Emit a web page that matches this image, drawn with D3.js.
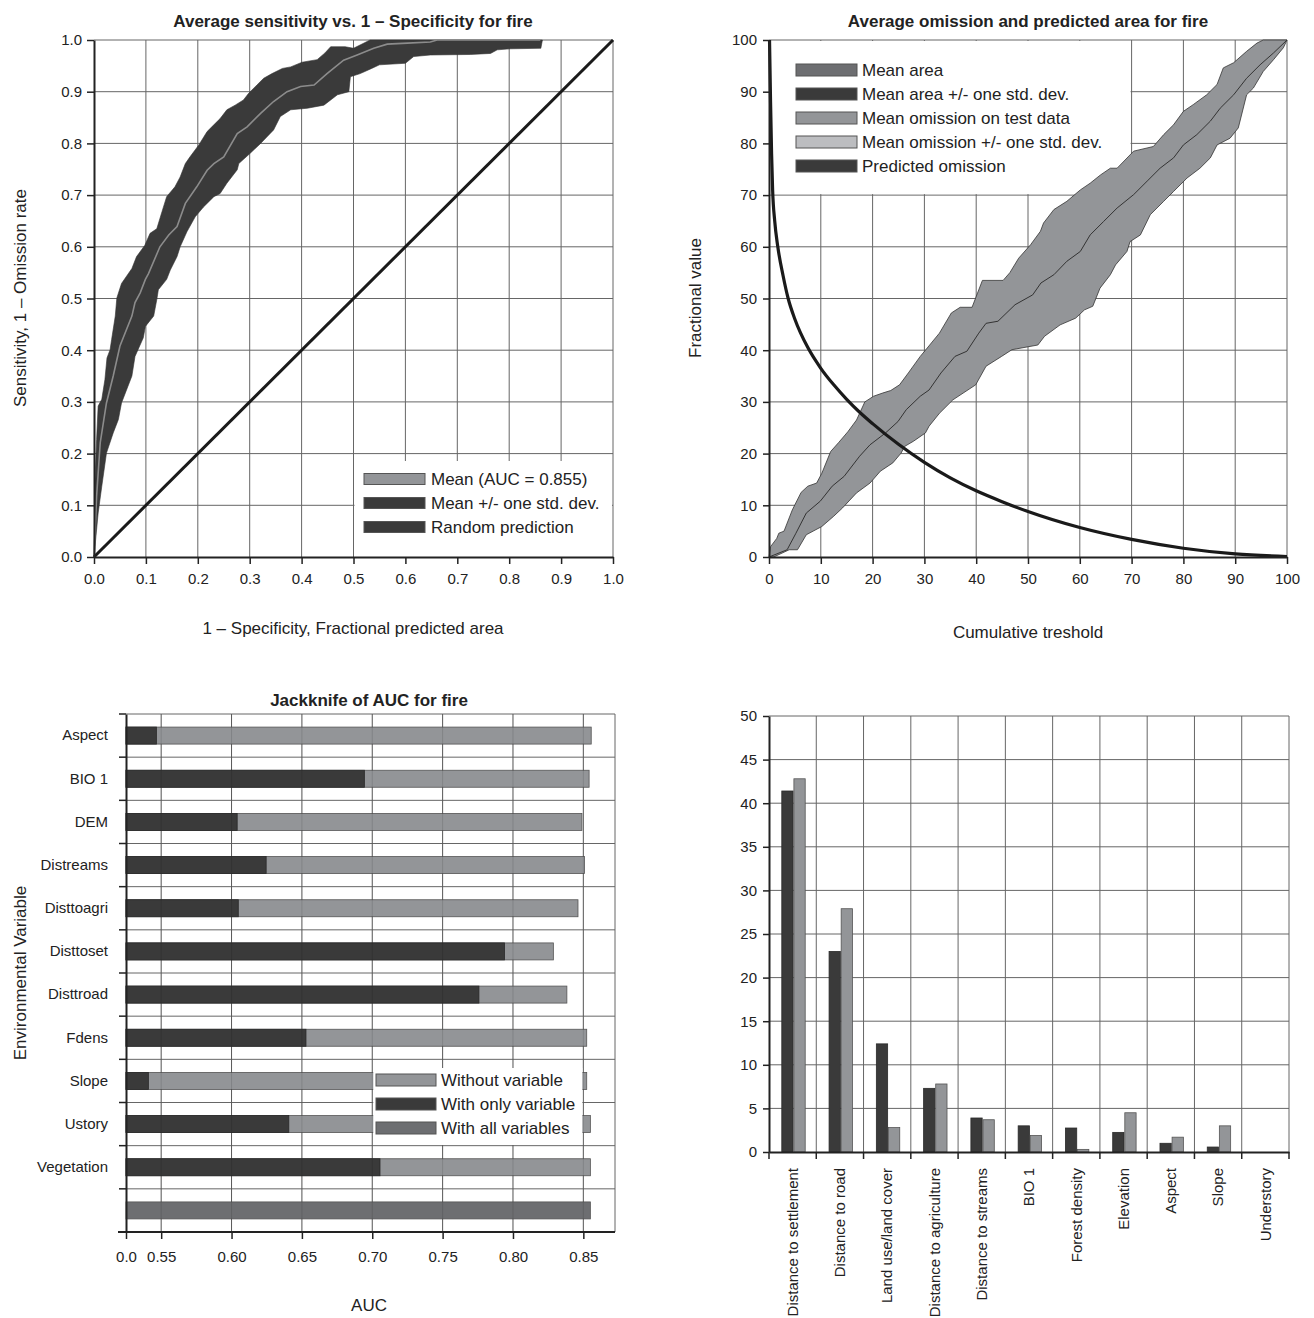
<!DOCTYPE html>
<html>
<head>
<meta charset="utf-8">
<script src="https://cdn.jsdelivr.net/npm/d3@7"></script>
<style>
  body { margin: 0; background: #fff; }
</style>
</head>
<body>
<script>
// ---------- data: ROC (average sensitivity vs 1 - specificity) ----------
var rocTicks = [0, 0.1, 0.2, 0.3, 0.4, 0.5, 0.6, 0.7, 0.8, 0.9, 1.0];
var rocUpper = [[0,0],[0.002,0.15],[0.005,0.227],[0.008,0.292],[0.015,0.305],[0.021,0.343],[0.025,0.385],
  [0.031,0.401],[0.034,0.421],[0.041,0.466],[0.044,0.501],[0.053,0.529],[0.073,0.558],[0.082,0.581],
  [0.098,0.603],[0.108,0.626],[0.121,0.635],[0.131,0.668],[0.140,0.697],[0.156,0.716],[0.166,0.735],
  [0.176,0.761],[0.185,0.774],[0.202,0.797],[0.218,0.823],[0.227,0.832],[0.243,0.848],[0.256,0.865],
  [0.272,0.874],[0.288,0.884],[0.298,0.897],[0.314,0.913],[0.327,0.926],[0.343,0.935],[0.363,0.945],
  [0.379,0.948],[0.401,0.957],[0.430,0.962],[0.445,0.975],[0.456,0.987],[0.484,0.987],[0.500,0.984],
  [0.532,1.0],[0.864,1.0]];
var rocLower = [[0,0],[0.002,0.021],[0.008,0.085],[0.015,0.137],[0.024,0.201],[0.037,0.24],[0.047,0.266],
  [0.053,0.298],[0.073,0.35],[0.079,0.388],[0.095,0.424],[0.099,0.446],[0.115,0.466],[0.121,0.498],
  [0.124,0.517],[0.140,0.537],[0.147,0.555],[0.160,0.581],[0.166,0.6],[0.179,0.629],[0.195,0.658],
  [0.211,0.677],[0.231,0.697],[0.243,0.703],[0.256,0.723],[0.276,0.749],[0.279,0.761],[0.301,0.781],
  [0.321,0.8],[0.346,0.826],[0.359,0.852],[0.379,0.865],[0.411,0.868],[0.443,0.874],[0.469,0.894],
  [0.491,0.9],[0.494,0.929],[0.513,0.935],[0.535,0.945],[0.550,0.952],[0.600,0.955],[0.616,0.968],
  [0.648,0.971],[0.725,0.972],[0.764,0.974],[0.777,0.981],[0.803,0.983],[0.861,0.984],[0.864,1.0]];
var rocMean = [[0,0],[0.005,0.117],[0.012,0.221],[0.024,0.298],[0.037,0.35],[0.050,0.408],[0.073,0.466],
  [0.079,0.492],[0.089,0.511],[0.099,0.537],[0.105,0.548],[0.127,0.6],[0.144,0.623],[0.160,0.639],
  [0.176,0.684],[0.198,0.716],[0.218,0.748],[0.231,0.761],[0.250,0.774],[0.276,0.819],[0.295,0.832],
  [0.321,0.858],[0.346,0.881],[0.372,0.9],[0.398,0.910],[0.424,0.913],[0.449,0.935],[0.481,0.961],
  [0.507,0.971],[0.539,0.984],[0.565,0.992],[0.604,0.994],[0.648,0.996],[0.661,1.0],[0.86,1.0]];
var rocRandom = [[0,0],[1,1]];
var rocLegend = ["Mean (AUC = 0.855)", "Mean +/- one std. dev.", "Random prediction"];

// ---------- data: omission and predicted area ----------
var omTicks = [0, 10, 20, 30, 40, 50, 60, 70, 80, 90, 100];
var omUpper = [[0,0],[0.3,2.0],[1.5,3.6],[1.9,4.6],[2.9,5.0],[4.5,9.1],[6.2,12.5],[7.5,13.7],[9.2,14.3],
  [10.2,16.2],[11.9,20.4],[13.5,22.2],[15.2,24.2],[16.9,26.5],[18.5,30],[20.2,31.1],[21.9,31.7],
  [23.5,32.2],[25.2,33.3],[26.9,35.6],[29.2,38.8],[30.2,40],[32.9,43.3],[35.2,47.2],[36.9,48.3],
  [39.2,48.3],[41.2,53.5],[45.2,53.5],[46.5,55],[48.2,57.8],[50.5,60.4],[52.4,63.0],[53.0,64.6],
  [55.0,67.2],[57.5,68.8],[60.1,71.0],[62.0,72.3],[64.0,73.9],[65.9,75.2],[67.2,75.2],[70.4,78.5],
  [74.2,79.4],[76.2,81.7],[78.1,83.6],[80.0,86.2],[81.9,87.5],[84.5,89.4],[86.5,91.4],[87.7,94.6],
  [89.7,95.6],[92.2,97.8],[94.2,99.4],[95.4,100],[100,100]];
var omLower = [[0,0],[0.9,0],[3.9,1.4],[5.5,1.4],[7.2,4.3],[10.2,5.9],[12.5,7.9],[14.2,9.5],[16.9,12.4],
  [19.5,14.3],[21.5,16.6],[23.9,18.2],[25.5,20.1],[26.2,21.4],[27.9,22.4],[30.2,24],[30.9,25.3],
  [32.9,27.8],[35.5,30.4],[39.9,33.3],[41.9,36.9],[44.9,38.8],[46.9,40.1],[51.9,41],[53.2,42.7],
  [56.2,44.9],[59.2,46.2],[60.9,47.8],[62.5,48.5],[63.9,52],[65.9,54.6],[66.9,56.5],[69.1,59.1],
  [69.7,61.0],[71.7,62.3],[73.6,66.2],[76.2,68.8],[78.1,70.7],[80.7,73.3],[83.2,75.2],[85.2,77.2],
  [86.5,79.7],[89.0,81.0],[90.6,83.0],[92.2,89.4],[93.5,90.7],[95.4,93.9],[97.4,96.2],[99.3,98.5],[100,100]];
var omMean = [[0,0],[3.5,1.4],[5.2,4.6],[7.2,8.5],[9.9,10.8],[12.2,13.7],[14.5,15.6],[17.5,19.5],
  [19.5,21.7],[22.5,24],[24.9,26.2],[26.5,28.5],[29.2,31.1],[30.9,32.3],[33.2,35.6],[35.9,38.8],
  [38.2,39.8],[40.5,43.3],[41.9,45.2],[44.2,45.6],[47.5,48.8],[50.9,50.7],[52.5,53],[55.0,54.6],
  [57.5,57.2],[60.1,59.1],[62.0,62.3],[64.6,64.9],[67.2,67.5],[70.4,70.1],[73.0,72.7],[75.5,75.2],
  [78.1,77.2],[80.0,79.7],[82.6,81.7],[85.2,84.3],[87.1,86.8],[89.7,89.4],[92.2,92.6],[94.8,95.2],
  [97.4,97.5],[100,100]];
var areaCurve = [[0.1,100],[0.3,88],[0.5,78],[0.7,71],[1.1,65],[1.7,60],[2.7,54.5],[3.7,50],
  [5,46],[7.5,40.5],[10,36.5],[12.5,33.3],[15,30.5],[17.5,28],[20,25.8],[25,21.8],[30,18.3],
  [35,15.3],[40,12.8],[45,10.7],[50,8.8],[60,5.7],[70,3.4],[80,1.7],[90,0.6],[100,0.1]];
var omLegend = ["Mean area", "Mean area +/- one std. dev.", "Mean omission on test data",
  "Mean omission +/- one std. dev.", "Predicted omission"];

// ---------- data: jackknife of AUC ----------
var jkVars = ["Aspect", "BIO 1", "DEM", "Distreams", "Disttoagri", "Disttoset", "Disttroad",
  "Fdens", "Slope", "Ustory", "Vegetation"];
var jkWithout = [0.8556, 0.8541, 0.849, 0.8508, 0.8462, 0.8287, 0.8383, 0.8524, 0.8524, 0.855, 0.855];
var jkOnly = [0.5466, 0.6944, 0.604, 0.6246, 0.6048, 0.794, 0.7758, 0.6529, 0.5409, 0.6407, 0.7055];
var jkAll = 0.855;
var jkTicks = [0.525, 0.55, 0.60, 0.65, 0.70, 0.75, 0.80, 0.85];
var jkLegend = ["Without variable", "With only variable", "With all variables"];

// ---------- data: variable contributions ----------
var contribCats = ["Distance to settlement", "Distance to road", "Land use/land cover",
  "Distance to agriculture", "Distance to streams", "BIO 1", "Forest density", "Elevation",
  "Aspect", "Slope", "Understory"];
var contribPct = [41.4, 23.0, 12.4, 7.3, 3.9, 3.0, 2.75, 2.25, 1.0, 0.57, 0];
var permImportance = [42.8, 27.9, 2.8, 7.8, 3.7, 1.9, 0.3, 4.5, 1.7, 3.0, 0];
var contribTicks = [0, 5, 10, 15, 20, 25, 30, 35, 40, 45, 50];

// ---------- styling ----------
var FONT = "'Liberation Sans', Arial, sans-serif";
var ink = "#222";
var gridColor = "#666";
var darkFill = "#3a3a3a";
var midFill = "#939598";
var allFill = "#6d6e71";

var svg = d3.select("body").append("svg")
  .attr("width", 1314)
  .attr("height", 1318)
  .style("font-family", FONT);

function styleAxis(g) {
  g.select(".domain").attr("stroke", ink).attr("stroke-width", 2);
  g.selectAll(".tick line").attr("stroke", ink).attr("stroke-width", 1.5);
  g.selectAll(".tick text").attr("font-size", 15).attr("fill", ink).attr("font-family", FONT);
}

function addText(x, y, txt, size, weight, rotate) {
  var t = svg.append("text")
    .attr("text-anchor", "middle")
    .attr("font-size", size)
    .attr("font-weight", weight || "normal")
    .attr("fill", ink)
    .text(txt);
  if (rotate) t.attr("transform", `translate(${x},${y}) rotate(-90)`);
  else t.attr("x", x).attr("y", y);
  return t;
}

// ================= chart 1: ROC =================
var x1 = d3.scaleLinear().domain([0, 1]).range([94, 613]);
var y1 = d3.scaleLinear().domain([0, 1]).range([557, 40]);
var g1 = svg.append("g");

g1.selectAll(".vgrid").data(rocTicks.slice(1)).enter().append("line")
  .attr("x1", d => x1(d)).attr("x2", d => x1(d))
  .attr("y1", y1(0)).attr("y2", y1(1))
  .attr("stroke", gridColor).attr("stroke-width", 1);
g1.selectAll(".hgrid").data(rocTicks.slice(1)).enter().append("line")
  .attr("x1", x1(0)).attr("x2", x1(1))
  .attr("y1", d => y1(d)).attr("y2", d => y1(d))
  .attr("stroke", gridColor).attr("stroke-width", 1);

// legend box hides the grid under it
g1.append("rect")
  .attr("x", x1(0.5) + 1).attr("y", 461)
  .attr("width", x1(1) - x1(0.5) - 2).attr("height", y1(0) - 461)
  .attr("fill", "#fff");

var line1 = d3.line().x(d => x1(d[0])).y(d => y1(d[1]));
g1.append("path")
  .attr("d", line1(rocUpper.concat(rocLower.slice().reverse())) + "Z")
  .attr("fill", darkFill).attr("stroke", "#333").attr("stroke-width", 0.6);
g1.append("path")
  .attr("d", line1(rocMean))
  .attr("fill", "none").attr("stroke", "#8c8c8c").attr("stroke-width", 1.6);
g1.append("path")
  .attr("d", line1(rocRandom))
  .attr("fill", "none").attr("stroke", "#1a1a1a").attr("stroke-width", 3);

var ax1 = g1.append("g").attr("transform", `translate(0,${y1(0)})`)
  .call(d3.axisBottom(x1).tickValues(rocTicks).tickFormat(d3.format(".1f"))
    .tickSize(7).tickSizeOuter(0).tickPadding(9));
styleAxis(ax1);
var ay1 = g1.append("g").attr("transform", `translate(${x1(0)},0)`)
  .call(d3.axisLeft(y1).tickValues(rocTicks).tickFormat(d3.format(".1f"))
    .tickSize(7).tickSizeOuter(0).tickPadding(5));
styleAxis(ay1);

var leg1 = g1.selectAll(".leg1").data(rocLegend).enter().append("g")
  .attr("transform", (d, i) => `translate(364,${479 + i * 24})`);
leg1.append("rect").attr("x", 0).attr("y", -5.5).attr("width", 61).attr("height", 11)
  .attr("fill", (d, i) => i === 0 ? midFill : darkFill).attr("stroke", "#555").attr("stroke-width", 1);
leg1.append("text").attr("x", 67).attr("dy", "0.35em").attr("font-size", 17).attr("fill", ink)
  .text(d => d);

addText(353, 27, "Average sensitivity vs. 1 \u2013 Specificity for fire", 17, "bold");
addText(353, 634, "1 \u2013 Specificity, Fractional predicted area", 17);
addText(26, 298, "Sensitivity, 1 \u2013 Omission rate", 17, "normal", true);

// ================= chart 2: omission / predicted area =================
var x2 = d3.scaleLinear().domain([0, 100]).range([769, 1287]);
var y2 = d3.scaleLinear().domain([0, 100]).range([557, 40]);
var g2 = svg.append("g");

g2.selectAll(".vgrid").data(omTicks.slice(1)).enter().append("line")
  .attr("x1", d => x2(d)).attr("x2", d => x2(d))
  .attr("y1", y2(0)).attr("y2", y2(100))
  .attr("stroke", gridColor).attr("stroke-width", 1);
g2.selectAll(".hgrid").data(omTicks.slice(1)).enter().append("line")
  .attr("x1", x2(0)).attr("x2", x2(100))
  .attr("y1", d => y2(d)).attr("y2", d => y2(d))
  .attr("stroke", gridColor).attr("stroke-width", 1);

g2.append("rect")
  .attr("x", x2(0)).attr("y", y2(100) + 1)
  .attr("width", x2(70) - x2(0) - 1).attr("height", y2(70) - y2(100) - 2)
  .attr("fill", "#fff");

var line2 = d3.line().x(d => x2(d[0])).y(d => y2(d[1]));
g2.append("path")
  .attr("d", line2(omUpper.concat(omLower.slice().reverse())) + "Z")
  .attr("fill", midFill).attr("stroke", "#333").attr("stroke-width", 0.8);
g2.append("path")
  .attr("d", line2(omMean))
  .attr("fill", "none").attr("stroke", "#333").attr("stroke-width", 1);
g2.append("path")
  .attr("d", d3.line().x(d => x2(d[0])).y(d => y2(d[1])).curve(d3.curveMonotoneX)(areaCurve))
  .attr("fill", "none").attr("stroke", "#1a1a1a").attr("stroke-width", 3.2);

var ax2 = g2.append("g").attr("transform", `translate(0,${y2(0)})`)
  .call(d3.axisBottom(x2).tickValues(omTicks).tickFormat(d3.format("d"))
    .tickSize(7).tickSizeOuter(0).tickPadding(9));
styleAxis(ax2);
var ay2 = g2.append("g").attr("transform", `translate(${x2(0)},0)`)
  .call(d3.axisLeft(y2).tickValues(omTicks).tickFormat(d3.format("d"))
    .tickSize(6).tickSizeOuter(0).tickPadding(6));
styleAxis(ay2);

var legFills2 = [allFill, darkFill, midFill, "#bcbdc0", darkFill];
var leg2 = g2.selectAll(".leg2").data(omLegend).enter().append("g")
  .attr("transform", (d, i) => `translate(796,${70 + i * 24})`);
leg2.append("rect").attr("x", 0).attr("y", -6).attr("width", 61).attr("height", 12)
  .attr("fill", (d, i) => legFills2[i]).attr("stroke", "#555").attr("stroke-width", 1);
leg2.append("text").attr("x", 66).attr("dy", "0.35em").attr("font-size", 17).attr("fill", ink)
  .text(d => d);

addText(1028, 27, "Average omission and predicted area for fire", 17, "bold");
addText(1028, 638, "Cumulative treshold", 17);
addText(701, 298, "Fractional value", 17, "normal", true);

// ================= chart 3: jackknife =================
var x3 = d3.scaleLinear().domain([0.525, 0.8725]).range([126, 615]);
var rows3 = jkVars.concat(["all"]);
var y3 = d3.scaleBand().domain(rows3).range([714, 1232]);
var g3 = svg.append("g");
var bounds3 = rows3.map(d => y3(d)).concat([y3.range()[1]]);

g3.selectAll(".vgrid").data(jkTicks.slice(1).concat([x3.domain()[1]])).enter().append("line")
  .attr("x1", d => x3(d)).attr("x2", d => x3(d))
  .attr("y1", y3.range()[0]).attr("y2", y3.range()[1])
  .attr("stroke", gridColor).attr("stroke-width", 1);
g3.selectAll(".hgrid").data(bounds3).enter().append("line")
  .attr("x1", x3(0.525)).attr("x2", x3(x3.domain()[1]))
  .attr("y1", d => d).attr("y2", d => d)
  .attr("stroke", gridColor).attr("stroke-width", 1);

var barH = 17;
var jkRows = jkVars.map((v, i) => ({ name: v, without: jkWithout[i], only: jkOnly[i] }));
g3.selectAll(".wo").data(jkRows).enter().append("rect")
  .attr("x", x3(0.525)).attr("y", d => y3(d.name) + (y3.bandwidth() - barH) / 2)
  .attr("width", d => x3(d.without) - x3(0.525)).attr("height", barH)
  .attr("fill", midFill).attr("stroke", "#555").attr("stroke-width", 0.8);
g3.selectAll(".on").data(jkRows).enter().append("rect")
  .attr("x", x3(0.525)).attr("y", d => y3(d.name) + (y3.bandwidth() - barH) / 2)
  .attr("width", d => x3(d.only) - x3(0.525)).attr("height", barH)
  .attr("fill", darkFill).attr("stroke", "#2a2a2a").attr("stroke-width", 0.8);
g3.append("rect")
  .attr("x", x3(0.525)).attr("y", y3("all") + (y3.bandwidth() - barH) / 2)
  .attr("width", x3(jkAll) - x3(0.525)).attr("height", barH)
  .attr("fill", allFill).attr("stroke", "#555").attr("stroke-width", 0.8);

// faint grid showing through the bars
g3.selectAll(".vgrid2").data(jkTicks.slice(1)).enter().append("line")
  .attr("x1", d => x3(d)).attr("x2", d => x3(d))
  .attr("y1", y3.range()[0]).attr("y2", y3.range()[1])
  .attr("stroke", "#000").attr("stroke-opacity", 0.12).attr("stroke-width", 1);

g3.append("rect")
  .attr("x", x3(0.70) + 1).attr("y", 1068)
  .attr("width", x3(0.85) - x3(0.70) - 2).attr("height", 77)
  .attr("fill", "#fff");

var leg3Fills = [midFill, darkFill, allFill];
var leg3 = g3.selectAll(".leg3").data(jkLegend).enter().append("g")
  .attr("transform", (d, i) => `translate(376,${1080 + i * 24})`);
leg3.append("rect").attr("x", 0).attr("y", -6).attr("width", 60).attr("height", 12)
  .attr("fill", (d, i) => leg3Fills[i]).attr("stroke", "#555").attr("stroke-width", 1);
leg3.append("text").attr("x", 65).attr("dy", "0.35em").attr("font-size", 17).attr("fill", ink)
  .text(d => d);

var ax3 = g3.append("g").attr("transform", `translate(0,${y3.range()[1]})`)
  .call(d3.axisBottom(x3).tickValues(jkTicks)
    .tickFormat(d => d === 0.525 ? "0.0" : d3.format(".2f")(d))
    .tickSize(7).tickSizeOuter(0).tickPadding(12));
styleAxis(ax3);
ax3.select(".domain").attr("d", `M118,0H${x3(x3.domain()[1])}`);
var ay3 = g3.append("g").attr("transform", `translate(${x3(0.525)},0)`)
  .call(d3.axisLeft(y3).tickSize(0).tickPadding(18).tickFormat(d => d === "all" ? "" : d));
styleAxis(ay3);
g3.selectAll(".btick").data(bounds3).enter().append("line")
  .attr("x1", x3(0.525) - 7).attr("x2", x3(0.525))
  .attr("y1", d => d).attr("y2", d => d)
  .attr("stroke", ink).attr("stroke-width", 1.5);

addText(369, 706, "Jackknife of AUC for fire", 17, "bold");
addText(369, 1311, "AUC", 17);
addText(26, 973, "Environmental Variable", 17, "normal", true);

// ================= chart 4: contributions =================
var x4 = d3.scaleBand().domain(contribCats).range([769, 1289]);
var y4 = d3.scaleLinear().domain([0, 50]).range([1152, 716]);
var sub4 = d3.scaleBand().domain(["contrib", "perm"]).range([12.8, 37]);
var g4 = svg.append("g");
var bounds4 = contribCats.map(d => x4(d)).concat([x4.range()[1]]);

g4.selectAll(".vgrid").data(bounds4.slice(1)).enter().append("line")
  .attr("x1", d => d).attr("x2", d => d)
  .attr("y1", y4(0)).attr("y2", y4(50))
  .attr("stroke", gridColor).attr("stroke-width", 1);
g4.selectAll(".hgrid").data(contribTicks.slice(1)).enter().append("line")
  .attr("x1", x4.range()[0]).attr("x2", x4.range()[1])
  .attr("y1", d => y4(d)).attr("y2", d => y4(d))
  .attr("stroke", gridColor).attr("stroke-width", 1);

var rows4 = contribCats.map((c, i) => ({ cat: c, contrib: contribPct[i], perm: permImportance[i] }));
g4.selectAll(".c").data(rows4).enter().append("rect")
  .attr("x", d => x4(d.cat) + sub4("contrib"))
  .attr("y", d => y4(d.contrib))
  .attr("width", sub4.bandwidth() - 0.8)
  .attr("height", d => y4(0) - y4(d.contrib))
  .attr("fill", darkFill).attr("stroke", "#2a2a2a").attr("stroke-width", 0.8);
g4.selectAll(".p").data(rows4).enter().append("rect")
  .attr("x", d => x4(d.cat) + sub4("perm"))
  .attr("y", d => y4(d.perm))
  .attr("width", sub4.bandwidth() - 0.8)
  .attr("height", d => y4(0) - y4(d.perm))
  .attr("fill", midFill).attr("stroke", "#555").attr("stroke-width", 0.8);

var ax4 = g4.append("g").attr("transform", `translate(0,${y4(0)})`)
  .call(d3.axisBottom(x4).tickSize(0).tickSizeOuter(0));
styleAxis(ax4);
ax4.selectAll(".tick text")
  .attr("transform", "rotate(-90)")
  .attr("text-anchor", "end")
  .attr("x", -16).attr("y", 0).attr("dy", "0.35em");
g4.selectAll(".btick").data(bounds4).enter().append("line")
  .attr("x1", d => d).attr("x2", d => d)
  .attr("y1", y4(0)).attr("y2", y4(0) + 7)
  .attr("stroke", ink).attr("stroke-width", 1.5);
var ay4 = g4.append("g").attr("transform", `translate(${x4.range()[0]},0)`)
  .call(d3.axisLeft(y4).tickValues(contribTicks).tickFormat(d3.format("d"))
    .tickSize(6).tickSizeOuter(0).tickPadding(6));
styleAxis(ay4);
</script>
</body>
</html>
